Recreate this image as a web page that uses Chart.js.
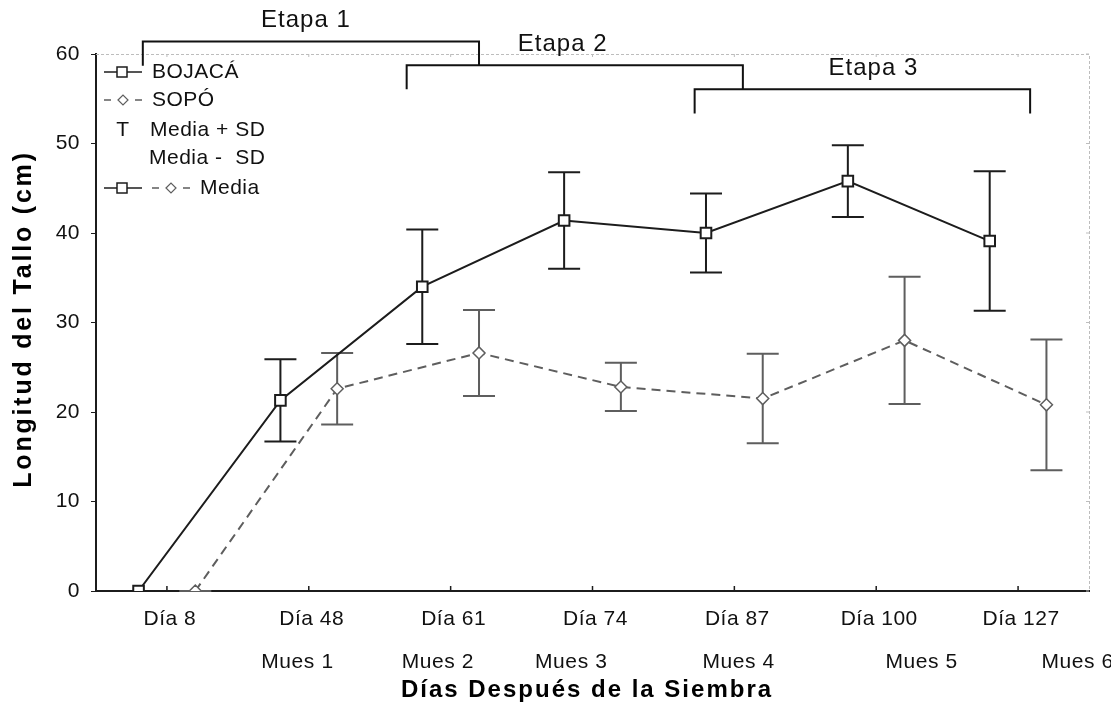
<!DOCTYPE html>
<html>
<head>
<meta charset="utf-8">
<script src="https://cdn.jsdelivr.net/npm/chart.js@4.4.0/dist/chart.umd.min.js"></script>
<style>
  html, body { margin: 0; padding: 0; background: #fff; }
</style>
</head>
<body>
<canvas id="grafico" width="1111" height="706"></canvas>
<script>
// Datos
const dias = ['Día 8', 'Día 48', 'Día 61', 'Día 74', 'Día 87', 'Día 100', 'Día 127'];
const bojacaMedia = [0, 21.3, 34.0, 41.4, 40.0, 45.8, 39.1];
const bojacaSD = [0, 4.6, 6.4, 5.4, 4.4, 4.0, 7.8];
const sopoMedia = [0, 22.6, 26.6, 22.8, 21.5, 28.0, 20.8];
const sopoSD = [0, 4.0, 4.8, 2.7, 5.0, 7.1, 7.3];
const yTicks = [0, 10, 20, 30, 40, 50, 60];

// Muestreos (posición sobre el eje x, en unidades de categoría)
const muestras = ['Mues 1', 'Mues 2', 'Mues 3', 'Mues 4', 'Mues 5', 'Mues 6'];
const muestrasPos = [0.92, 1.91, 2.85, 4.03, 5.32, 6.42];

// Etapas (inicio, fin y texto en unidades de categoría, altura en cm)
const etapas = ['Etapa 1', 'Etapa 2', 'Etapa 3'];
const etapaInicio = [-0.17, 1.69, 3.72];
const etapaFin = [2.2, 4.06, 6.085];
const etapaTexto = [0.98, 2.79, 4.98];
const etapaAltura = [61.4, 58.75, 56.05];
const etapaCaida = 2.7;

const desplazamiento = 0.2;
const colorBojaca = '#1c1c1c';
const colorSopo = '#5e5e5e';
const fuente = '"Liberation Sans", Arial, sans-serif';

// Espaciado de letras para todos los textos de Chart.js
const espaciado = {
    id: 'espaciado',
    beforeDraw(chart) {
        chart.ctx.letterSpacing = '0.5px';
    }
};

// Barras de error (media +/- SD)
const barrasError = {
    id: 'barrasError',
    beforeDatasetsDraw(chart) {
        const ctx = chart.ctx;
        const y = chart.scales.y;
        const sds = [bojacaSD, sopoSD];
        chart.data.datasets.forEach((ds, di) => {
            const meta = chart.getDatasetMeta(di);
            ctx.save();
            ctx.strokeStyle = ds.borderColor;
            ctx.lineWidth = 2;
            meta.data.forEach((pt, i) => {
                const m = ds.data[i].y;
                const yArriba = y.getPixelForValue(m + sds[di][i]);
                const yAbajo = y.getPixelForValue(m - sds[di][i]);
                ctx.beginPath();
                ctx.moveTo(pt.x, yArriba); ctx.lineTo(pt.x, yAbajo);
                ctx.moveTo(pt.x - 16, yArriba); ctx.lineTo(pt.x + 16, yArriba);
                ctx.moveTo(pt.x - 16, yAbajo); ctx.lineTo(pt.x + 16, yAbajo);
                ctx.stroke();
            });
            ctx.restore();
        });
    }
};

// Marco, títulos, etapas, muestreos y leyenda
const anotaciones = {
    id: 'anotaciones',
    afterDraw(chart) {
        const ctx = chart.ctx;
        const a = chart.chartArea;
        const x = chart.scales.x;
        const y = chart.scales.y;
        ctx.save();

        // marco gris punteado arriba y a la derecha
        ctx.strokeStyle = '#bdbdbd';
        ctx.lineWidth = 1;
        ctx.setLineDash([3, 2]);
        ctx.beginPath();
        ctx.moveTo(a.left, a.top + 0.5); ctx.lineTo(a.right + 0.5, a.top + 0.5);
        ctx.lineTo(a.right + 0.5, a.bottom);
        ctx.stroke();
        ctx.setLineDash([]);
        ctx.beginPath();
        dias.forEach((d, i) => {
            const px = x.getPixelForValue(i);
            ctx.moveTo(px, a.top); ctx.lineTo(px, a.top + 3);
        });
        yTicks.forEach(v => {
            const py = y.getPixelForValue(v);
            ctx.moveTo(a.right, py); ctx.lineTo(a.right - 3, py);
        });
        ctx.stroke();

        // marcas del eje x hacia adentro
        ctx.strokeStyle = '#1c1c1c';
        ctx.lineWidth = 1.5;
        ctx.beginPath();
        dias.forEach((d, i) => {
            const px = x.getPixelForValue(i);
            ctx.moveTo(px, a.bottom); ctx.lineTo(px, a.bottom - 5);
        });
        ctx.stroke();

        // títulos de los ejes
        ctx.fillStyle = '#000';
        ctx.textAlign = 'center';
        ctx.textBaseline = 'middle';
        ctx.font = 'bold 24px ' + fuente;
        ctx.letterSpacing = '2px';
        ctx.fillText('Días Después de la Siembra', 587, 690);
        ctx.save();
        ctx.translate(24, 319);
        ctx.rotate(-Math.PI / 2);
        ctx.font = 'bold 25px ' + fuente;
        ctx.letterSpacing = '2.8px';
        ctx.fillText('Longitud del Tallo (cm)', 0, 0);
        ctx.restore();

        // muestreos
        ctx.fillStyle = '#111';
        ctx.font = '21px ' + fuente;
        ctx.letterSpacing = '0.6px';
        ctx.textBaseline = 'alphabetic';
        muestras.forEach((m, i) => {
            ctx.fillText(m, x.getPixelForValue(muestrasPos[i]), a.bottom + 77);
        });

        // etapas
        ctx.strokeStyle = '#111';
        ctx.lineWidth = 2;
        ctx.font = '24px ' + fuente;
        ctx.letterSpacing = '1px';
        etapas.forEach((e, i) => {
            const x1 = x.getPixelForValue(etapaInicio[i]);
            const x2 = x.getPixelForValue(etapaFin[i]);
            const yl = y.getPixelForValue(etapaAltura[i]);
            const yb = y.getPixelForValue(etapaAltura[i] - etapaCaida);
            ctx.beginPath();
            ctx.moveTo(x1, yb); ctx.lineTo(x1, yl); ctx.lineTo(x2, yl); ctx.lineTo(x2, yb);
            ctx.stroke();
            ctx.fillText(e, x.getPixelForValue(etapaTexto[i]), yl - 14);
        });

        // leyenda
        const lx = a.left;
        const ly = a.top;
        ctx.textAlign = 'left';
        ctx.textBaseline = 'middle';
        ctx.font = '21px ' + fuente;
        ctx.letterSpacing = '0.5px';
        const cuadro = (cx, cy) => {
            ctx.fillStyle = '#fff';
            ctx.strokeStyle = colorBojaca;
            ctx.lineWidth = 1.5;
            ctx.fillRect(cx - 5, cy - 5, 10, 10);
            ctx.strokeRect(cx - 5, cy - 5, 10, 10);
        };
        const rombo = (cx, cy) => {
            ctx.fillStyle = '#fff';
            ctx.strokeStyle = colorSopo;
            ctx.lineWidth = 1.2;
            ctx.beginPath();
            ctx.moveTo(cx - 5, cy); ctx.lineTo(cx, cy - 5); ctx.lineTo(cx + 5, cy); ctx.lineTo(cx, cy + 5);
            ctx.closePath();
            ctx.fill(); ctx.stroke();
        };
        const lineaBojaca = (x0, cy) => {
            ctx.strokeStyle = colorBojaca;
            ctx.lineWidth = 1.5;
            ctx.beginPath(); ctx.moveTo(x0, cy); ctx.lineTo(x0 + 38, cy); ctx.stroke();
            cuadro(x0 + 18, cy);
        };
        const lineaSopo = (x0, cy) => {
            ctx.strokeStyle = colorSopo;
            ctx.lineWidth = 1.5;
            ctx.beginPath();
            ctx.moveTo(x0, cy); ctx.lineTo(x0 + 7, cy);
            ctx.moveTo(x0 + 31, cy); ctx.lineTo(x0 + 38, cy);
            ctx.stroke();
            rombo(x0 + 19, cy);
        };
        lineaBojaca(lx + 8, ly + 18);
        ctx.fillStyle = '#111';
        ctx.fillText('BOJACÁ', lx + 56, ly + 18);
        lineaSopo(lx + 8, ly + 46);
        ctx.fillStyle = '#111';
        ctx.fillText('SOPÓ', lx + 56, ly + 46);
        ctx.textAlign = 'center';
        ctx.fillText('T', lx + 27, ly + 76);
        ctx.textAlign = 'left';
        ctx.fillText('Media + SD', lx + 54, ly + 76);
        ctx.fillText('Media -  SD', lx + 53, ly + 104);
        lineaBojaca(lx + 8, ly + 134);
        lineaSopo(lx + 56, ly + 134);
        ctx.fillStyle = '#111';
        ctx.fillText('Media', lx + 104, ly + 134);

        ctx.restore();
    }
};

const ctx = document.getElementById('grafico').getContext('2d');

new Chart(ctx, {
    type: 'line',
    data: {
        datasets: [{
            label: 'BOJACÁ',
            data: bojacaMedia.map((v, i) => ({ x: i - desplazamiento, y: v })),
            borderColor: colorBojaca,
            borderWidth: 2,
            pointStyle: 'rect',
            pointRadius: 7.5,
            pointBackgroundColor: '#fff',
            pointBorderColor: colorBojaca,
            pointBorderWidth: 2,
            tension: 0,
        }, {
            label: 'SOPÓ',
            data: sopoMedia.map((v, i) => ({ x: i + desplazamiento, y: v })),
            borderColor: colorSopo,
            borderWidth: 2,
            borderDash: [9, 6],
            pointStyle: 'rectRot',
            pointRadius: 6,
            pointBackgroundColor: '#fff',
            pointBorderColor: colorSopo,
            pointBorderWidth: 1.5,
            tension: 0,
        }],
    },
    options: {
        responsive: false,
        animation: false,
        devicePixelRatio: 1,
        layout: { padding: { left: 0, top: 54, right: 22, bottom: 0 } },
        plugins: {
            legend: { display: false },
            tooltip: { enabled: false },
        },
        scales: {
            x: {
                type: 'linear',
                min: -0.5,
                max: 6.5,
                afterBuildTicks: s => { s.ticks = dias.map((d, i) => ({ value: i })); },
                afterFit: s => { s.height = 115; },
                ticks: {
                    callback: v => dias[v],
                    color: '#111',
                    font: { family: fuente, size: 21 },
                    padding: 16,
                    labelOffset: 3,
                    maxRotation: 0,
                    autoSkip: false,
                },
                grid: { drawOnChartArea: false, drawTicks: false },
                border: { color: '#1c1c1c', width: 2 },
            },
            y: {
                min: 0,
                max: 60,
                afterBuildTicks: s => { s.ticks = yTicks.map(v => ({ value: v })); },
                afterFit: s => { s.width = 96; },
                ticks: {
                    color: '#111',
                    font: { family: fuente, size: 21 },
                    padding: 11,
                },
                grid: { drawOnChartArea: false, tickLength: 5, color: '#1c1c1c' },
                border: { color: '#1c1c1c', width: 2 },
            },
        },
    },
    plugins: [espaciado, barrasError, anotaciones],
});
</script>
</body>
</html>
